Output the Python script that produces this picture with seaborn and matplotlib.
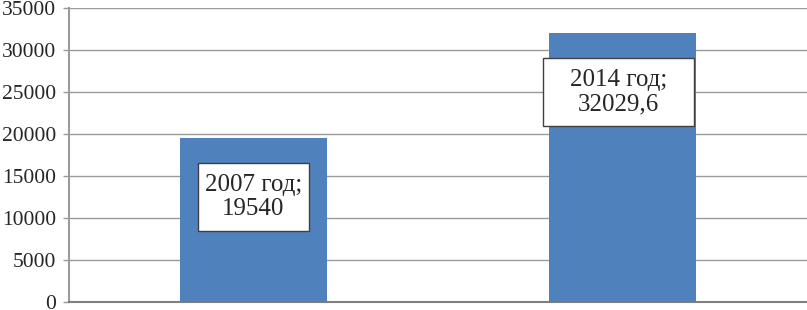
import matplotlib
matplotlib.use("Agg")
import matplotlib.pyplot as plt
from matplotlib.patches import Rectangle
import seaborn as sns
import pandas as pd

categories = ["2007 год", "2014 год"]
values = [19540, 32029.6]
value_labels = ["19540", "32029,6"]
label_y = [12500, 25000]
label_dx = [0.0, -0.01]
box_w = [0.30, 0.41]
box_h = 8100
yticks = [0, 5000, 10000, 15000, 20000, 25000, 30000, 35000]

sns.set_style("white")
plt.rcParams['font.family'] = ['Liberation Serif', 'DejaVu Serif']

df = pd.DataFrame({"cat": categories, "val": values})

fig = plt.figure(figsize=(8.07, 3.10), dpi=100)
ax = fig.add_axes([69/807, 1 - 302/310, 1 - 69/807, (302-8)/310])

sns.barplot(data=df, x="cat", y="val", color="#4F81BD", width=0.4, ax=ax,
            saturation=1, linewidth=0, zorder=3)

ax.set_ylim(0, 35000)
ax.set_xlim(-0.5, 1.5)
ax.set_yticks(yticks)
ax.set_yticklabels([str(t) for t in yticks], fontsize=15.5)
ax.set_xticks([])
ax.set_xlabel("")
ax.set_ylabel("")
ax.yaxis.grid(True, color="#9A9A9A", linewidth=1.0, zorder=0)
ax.set_axisbelow(True)
ax.tick_params(axis="y", length=4.5, width=1.0, color="#9A9A9A", pad=5, left=True)

for s in ["top", "right"]:
    ax.spines[s].set_visible(False)
ax.spines["left"].set_color("#9A9A9A")
ax.spines["left"].set_linewidth(1.5)
ax.spines["bottom"].set_color("#7F7F7F")
ax.spines["bottom"].set_linewidth(1.5)

for i, (cat, vl, ly, dx, bw) in enumerate(zip(categories, value_labels, label_y, label_dx, box_w)):
    cx = i + dx
    ax.add_patch(Rectangle((cx - bw / 2, ly - box_h / 2), bw, box_h,
                           facecolor="white", edgecolor="#404040",
                           linewidth=1.0, zorder=4))
    ax.text(cx, ly, f"{cat};\n{vl}", ha="center", va="center", fontsize=18,
            linespacing=1.12, zorder=5)

fig.savefig("out.png", dpi=100)
